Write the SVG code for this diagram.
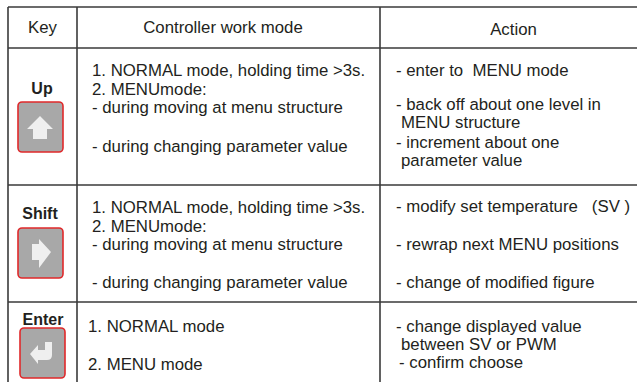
<svg xmlns="http://www.w3.org/2000/svg" width="637" height="382" viewBox="0 0 637 382">
<style>
.t{font-family:"Liberation Sans",Arial,sans-serif;font-size:16.8px;fill:#231f20}
.b{font-family:"Liberation Sans",Arial,sans-serif;font-size:16px;font-weight:bold;fill:#231f20}
.ln{stroke:#3a3a3a;stroke-width:1.6;fill:none}
.key{fill:#a8a8a8;stroke:#e0282a;stroke-width:1.6}
.arr{fill:#efefef}
</style>
<rect width="637" height="382" fill="#fff"/>
<g id="connectors">
<line class="ln" x1="8" y1="7" x2="637" y2="7"/>
<line class="ln" x1="8" y1="48" x2="637" y2="48"/>
<line class="ln" x1="8" y1="185" x2="637" y2="185"/>
<line class="ln" x1="8" y1="302" x2="637" y2="302"/>
<line class="ln" x1="8" y1="7" x2="8" y2="382"/>
<line class="ln" x1="77" y1="7" x2="77" y2="382"/>
<line class="ln" x1="380" y1="7" x2="380" y2="382"/>
</g>
<g id="header">
<text class="t" x="42.5" y="33" text-anchor="middle">Key</text>
<text class="t" x="223" y="33" text-anchor="middle">Controller work mode</text>
<text class="t" x="513.5" y="35" text-anchor="middle">Action</text>
</g>
<g id="row-up">
<text class="b" x="42" y="94" text-anchor="middle">Up</text>
<rect class="key" x="18" y="102" width="45" height="50" rx="4"/>
<path class="arr" d="M40,116 L53,129 L47,129 L47,139 L33,139 L33,129 L27,129 Z"/>
<text class="t" x="92" y="76">1. NORMAL mode, holding time &gt;3s.</text>
<text class="t" x="92" y="95">2. MENUmode:</text>
<text class="t" x="92" y="113">- during moving at menu structure</text>
<text class="t" x="92" y="152">- during changing parameter value</text>
<text class="t" x="396" y="76" xml:space="preserve">- enter to  MENU mode</text>
<text class="t" x="396" y="110">- back off about one level in</text>
<text class="t" x="401" y="128">MENU structure</text>
<text class="t" x="396" y="148">- increment about one</text>
<text class="t" x="401" y="166">parameter value</text>
</g>
<g id="row-shift">
<text class="b" x="40" y="219" text-anchor="middle">Shift</text>
<rect class="key" x="18" y="228" width="45" height="50" rx="4"/>
<path class="arr" d="M32,244 L39,244 L39,239 L51,252 L39,268 L39,260 L32,260 Z"/>
<text class="t" x="92" y="213">1. NORMAL mode, holding time &gt;3s.</text>
<text class="t" x="92" y="232">2. MENUmode:</text>
<text class="t" x="92" y="250">- during moving at menu structure</text>
<text class="t" x="92" y="288">- during changing parameter value</text>
<text class="t" x="396" y="212" xml:space="preserve">- modify set temperature   (SV )</text>
<text class="t" x="396" y="250">- rewrap next MENU positions</text>
<text class="t" x="396" y="288">- change of modified figure</text>
</g>
<g id="row-enter">
<text class="b" x="43" y="325" text-anchor="middle">Enter</text>
<rect class="key" x="20" y="328" width="45" height="50" rx="4"/>
<path class="arr" d="M30,354 L38,345 L38,350 L45,350 L45,342 L52,342 L52,355 Q52,360 47,360 L38,360 L38,364 Z"/>
<text class="t" x="88" y="332">1. NORMAL mode</text>
<text class="t" x="88" y="370">2. MENU mode</text>
<text class="t" x="396" y="332">- change displayed value</text>
<text class="t" x="401" y="350">between SV or PWM</text>
<text class="t" x="399" y="368">- confirm choose</text>
</g>
</svg>
